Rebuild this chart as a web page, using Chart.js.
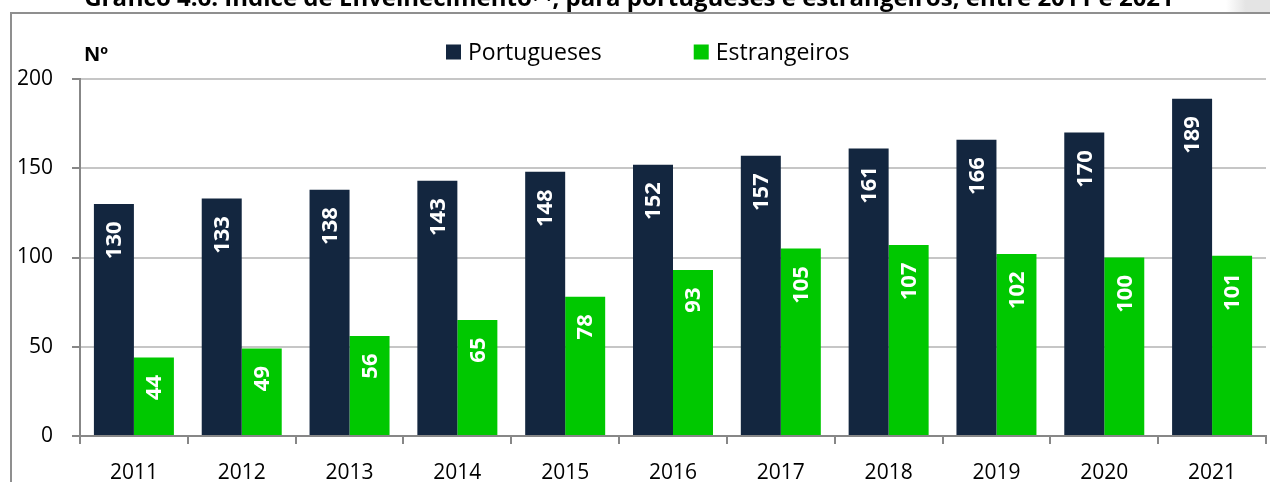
<!DOCTYPE html>
<html><head><meta charset="utf-8">
<script src="https://cdn.jsdelivr.net/npm/chart.js@4.4.1/dist/chart.umd.min.js"></script>
<style>
html,body{margin:0;padding:0;background:#fff;overflow:hidden;width:1270px;height:482px;}
#corner{position:absolute;left:1226px;top:0;width:44px;height:12px;background:linear-gradient(90deg,#ffffff,#e4e4e4 45%);}
#frame{position:absolute;left:10px;top:12px;width:1270px;height:480px;border-left:2px solid #8f8f8f;border-top:2px solid #8f8f8f;}
#c{position:absolute;left:0;top:0;}
</style></head><body>
<div id="corner"></div><div id="frame"></div>
<canvas id="c" width="1291" height="482"></canvas>
<script>
const TITLE = 'Gráfico 4.6. Índice de Envelhecimento⁽¹⁾, para portugueses e estrangeiros, entre 2011 e 2021';
const UNIT_LABEL = 'Nº';
const years = ['2011','2012','2013','2014','2015','2016','2017','2018','2019','2020','2021'];
const portugueses = [130,133,138,143,148,152,157,161,166,170,189];
const estrangeiros = [44,49,56,65,78,93,105,107,102,100,101];
const seriesNames = ['Portugueses','Estrangeiros'];
const seriesColors = ['#13263F','#00C800'];
const yTickValues = [0,50,100,150,200];

Chart.defaults.font.family = "'Open Sans', 'Liberation Sans', sans-serif";
Chart.defaults.color = '#000';

const titlePlugin = {
  id: 'cutTitle',
  afterDraw(chart) {
    const ctx = chart.ctx;
    ctx.save();
    ctx.font = "bold 24px 'Open Sans', sans-serif";
    ctx.fillStyle = '#000';
    ctx.textAlign = 'center';
    ctx.textBaseline = 'alphabetic';
    ctx.fillText(TITLE, 629, 6, 1102);
    ctx.font = "bold 20px 'Open Sans', sans-serif";
    ctx.textAlign = 'left';
    ctx.fillText(UNIT_LABEL, 84, 61);
    ctx.restore();
  }
};

const legendPlugin = {
  id: 'customLegend',
  afterDraw(chart) {
    const ctx = chart.ctx;
    ctx.save();
    ctx.font = "23px 'Open Sans', sans-serif";
    ctx.textBaseline = 'middle';
    ctx.textAlign = 'left';
    let x = 446;
    const cy = 52;
    chart.data.datasets.forEach((ds, i) => {
      ctx.fillStyle = ds.backgroundColor;
      ctx.fillRect(x, cy - 7.5, 15, 15);
      ctx.fillStyle = '#000';
      ctx.fillText(ds.label, x + 22, cy + 1);
      x += 22 + ctx.measureText(ds.label).width + 92;
    });
    ctx.restore();
  }
};

const valueLabels = {
  id: 'valueLabels',
  afterDatasetsDraw(chart) {
    const ctx = chart.ctx;
    ctx.save();
    ctx.font = "bold 22px 'Open Sans', sans-serif";
    ctx.fillStyle = '#fff';
    ctx.textAlign = 'right';
    ctx.textBaseline = 'middle';
    chart.data.datasets.forEach((ds, di) => {
      const meta = chart.getDatasetMeta(di);
      meta.data.forEach((el, i) => {
        ctx.save();
        ctx.translate(el.x + 1, el.y + 17.5);
        ctx.rotate(-Math.PI / 2);
        ctx.fillText(String(ds.data[i]), 0, 0);
        ctx.restore();
      });
    });
    ctx.restore();
  }
};

new Chart(document.getElementById('c'), {
  type: 'bar',
  data: {
    labels: years,
    datasets: [
      { label: seriesNames[0], data: portugueses, backgroundColor: seriesColors[0] },
      { label: seriesNames[1], data: estrangeiros, backgroundColor: seriesColors[1] }
    ]
  },
  options: {
    responsive: false,
    animation: false,
    devicePixelRatio: 1,
    layout: { padding: { left: 0, right: 25, top: 79, bottom: 0 } },
    datasets: { bar: { categoryPercentage: 0.742, barPercentage: 1.0 } },
    plugins: { legend: { display: false }, title: { display: false }, tooltip: { enabled: false } },
    scales: {
      x: {
        offset: true,
        grid: { display: true, drawOnChartArea: false, offset: true, tickLength: 8, tickColor: '#878787', lineWidth: 2 },
        border: { display: true, color: '#878787', width: 2 },
        ticks: { font: { size: 21 }, padding: 16, color: '#000' },
        afterFit(s) { s.height = 46; }
      },
      y: {
        min: 0, max: 200,
        afterBuildTicks(s) { s.ticks = yTickValues.map(v => ({ value: v })); },
        grid: { color: '#c6c6c6', lineWidth: 2, tickLength: 8, tickColor: '#878787' },
        border: { display: true, color: '#878787', width: 2 },
        ticks: { font: { size: 21 }, padding: 19, color: '#000' },
        afterFit(s) { s.width = 80; }
      }
    }
  },
  plugins: [titlePlugin, legendPlugin, valueLabels]
});
</script>
</body></html>
